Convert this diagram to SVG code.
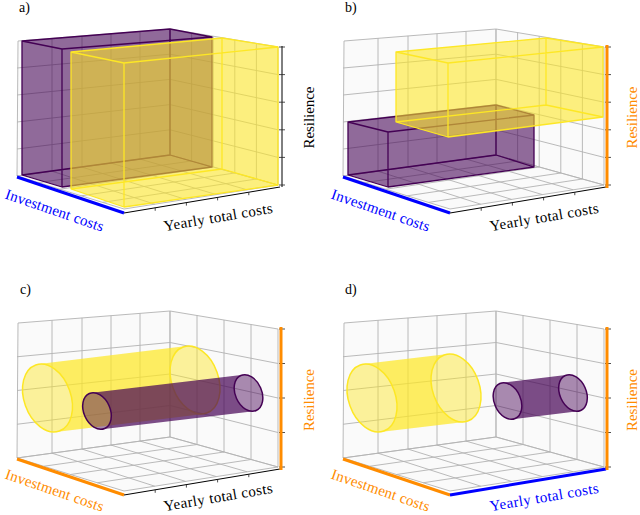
<svg xmlns="http://www.w3.org/2000/svg" xmlns:xlink="http://www.w3.org/1999/xlink" width="640" height="515" viewBox="0 0 640 515">
<style>
.pane{fill:#eeeeee;fill-opacity:.3;stroke:#b2b2b2;stroke-width:.9;stroke-linejoin:round}
.grid{fill:none;stroke:#b2b2b2;stroke-width:.9}
text{font-family:Liberation Serif,DejaVu Serif,Times New Roman,Times,serif}
.lbl{font-size:15px}
.pl{font-size:14px;fill:#000}
.pbox{fill:#440154;fill-opacity:.58}
.pedge{fill:none;stroke:#440154;stroke-width:1.3;stroke-linejoin:round}
.ybox{fill:#fde725;fill-opacity:.58}
.yedge{fill:none;stroke:#fde725;stroke-width:1.3;stroke-linejoin:round}
.ybody{fill:#fde725;fill-opacity:.72}
.yend{fill:#fde725;fill-opacity:.45;stroke:#fde725;stroke-width:1.5}
.pbody{fill:#440154;fill-opacity:.7}
.pend{fill:#440154;fill-opacity:.45;stroke:#440154;stroke-width:1.5}
.blue{fill:none;stroke:#0000ff;stroke-width:3}
.orange{fill:none;stroke:#ff8c00;stroke-width:3}
.blk{fill:none;stroke:#000;stroke-width:1}
.tick{fill:none;stroke:#222;stroke-width:.8}
.tb{fill:#0000ff}
.to{fill:#ff8c00}
.tk{fill:#000}
</style>
<defs>
<g id="panes">
<path class="pane" d="M17,176 L170,155 L170,29 L18,41 Z"/>
<path class="pane" d="M170,155 L278,185 L278,47 L170,29 Z"/>
<path class="pane" d="M17,176 L124,209 L278,185 L170,155 Z"/>
<path class="grid" d="M52,171.2V38.3 M82,167.1V35.9 M111,163.1V33.7 M140,159.1V31.4 M52,171.2L154.8,204.2 M82,167.1L185.6,199.4 M111,163.1L216.4,194.6 M140,159.1L247.2,189.8"/>
</g>
<g id="frame5">
<use xlink:href="#panes"/>
<path class="grid" d="M17,149L170,129.8 M17,122L170,104.6 M17,95L170,79.4 M17,68L170,54.2 M191.6,161V32.6 M213.2,167V36.2 M234.8,173V39.8 M256.4,179V43.4 M170,129.8L278,157.4 M170,104.6L278,129.8 M170,79.4L278,102.2 M170,54.2L278,74.6 M38.4,182.6L191.6,161 M59.8,189.2L213.2,167 M81.2,195.8L234.8,173 M102.6,202.4L256.4,179"/>
</g>
<g id="frame4">
<use xlink:href="#panes"/>
<path class="grid" d="M17,142.25L170,123.5 M17,108.5L170,92 M17,74.75L170,60.5 M197,162.5V33.5 M224,170V38 M251,177.5V42.5 M170,123.5L278,150.5 M170,92L278,116 M170,60.5L278,81.5 M43.75,184.25L197,162.5 M70.5,192.5L224,170 M97.25,200.75L251,177.5"/>
</g>
<path id="yticks" class="tick" d="M155.2,207.8v3 M186.4,202.6v3 M217.6,197.4v3 M248.8,192.2v3"/>
<path id="zt5" class="tick" d="M279,185h6 M279,157.4h6 M279,129.8h6 M279,102.2h6 M279,74.6h6 M279,47h6"/>
<path id="zt4" class="tick" d="M279,185h6 M279,150.5h6 M279,116h6 M279,81.5h6 M279,47h6"/>
</defs>
<rect width="640" height="515" fill="#fff"/>

<g id="panel-a">
<use xlink:href="#frame5"/>
<g id="a-purple-box">
<path class="pbox" d="M22,41 L170,29 L212,37 L212,167 L62,187 L22,175 Z"/>
<path class="pedge" d="M22,41 L62,49 L212,37 L170,29 Z M22,175 L62,187 L212,167 L170,155 Z M22,41V175 M62,49V187 M212,37V167 M170,29V155"/>
</g>
<g id="a-yellow-box">
<path class="ybox" d="M71,52 L222,38 L278,47 L278,185 L124,207 L71,189 Z"/>
<path class="yedge" d="M71,52 L124,63 L278,47 L222,38 Z M71,189 L124,207 L278,185 L222,169 Z M71,52V189 M124,63V207 M278,47V185 M222,38V169"/>
</g>
<g id="a-axes">
<path class="blue" d="M17,177 L124,213"/>
<path class="blk" d="M124,213 L280,187"/>
<use xlink:href="#yticks"/>
<path class="blk" d="M282,46V187"/>
<use xlink:href="#zt5"/>
</g>
<text class="pl" x="19" y="12" font-family="Liberation Serif, serif">a)</text>
<text class="lbl tb" font-family="Liberation Serif, serif" transform="translate(53,215) rotate(19)" text-anchor="middle" textLength="103" lengthAdjust="spacing">Investment costs</text>
<text class="lbl tk" font-family="Liberation Serif, serif" transform="translate(219,222) rotate(-9.6)" text-anchor="middle" textLength="110" lengthAdjust="spacing">Yearly total costs</text>
<text class="lbl tk" font-family="Liberation Serif, serif" transform="translate(314,117.5) rotate(-90)" text-anchor="middle" textLength="62" lengthAdjust="spacing">Resilience</text>
</g>

<g id="panel-b">
<use xlink:href="#frame5" x="326" y="0"/>
<g id="b-purple-box">
<path class="pbox" d="M348,122 L496,105 L534,115 L534,167 L388,187 L348,175 Z"/>
<path class="pedge" d="M348,122 L388,132 L534,115 L496,105 Z M348,175 L388,187 L534,167 L496,155 Z M348,122V175 M388,132V187 M534,115V167 M496,105V155"/>
</g>
<g id="b-yellow-box">
<path class="ybox" d="M396,52 L546,38 L603,47 L603,117 L448,137 L396,122 Z"/>
<path class="yedge" d="M396,52 L448,63 L603,47 L546,38 Z M396,122 L448,137 L603,117 L546,105 Z M396,52V122 M448,63V137 M603,47V117 M546,38V105"/>
</g>
<g id="b-axes" transform="translate(326,0)">
<path class="blue" d="M17,177 L124,213"/>
<path class="blk" d="M124,213 L280,187"/>
<use xlink:href="#yticks"/>
<use xlink:href="#zt5"/>
<path class="orange" d="M281,45V188"/>
</g>
<text class="pl" x="345" y="12" font-family="Liberation Serif, serif">b)</text>
<text class="lbl tb" font-family="Liberation Serif, serif" transform="translate(379,215) rotate(19)" text-anchor="middle" textLength="103" lengthAdjust="spacing">Investment costs</text>
<text class="lbl tk" font-family="Liberation Serif, serif" transform="translate(545,222) rotate(-9.6)" text-anchor="middle" textLength="110" lengthAdjust="spacing">Yearly total costs</text>
<text class="lbl to" font-family="Liberation Serif, serif" transform="translate(637,117.5) rotate(-90)" text-anchor="middle" textLength="62" lengthAdjust="spacing">Resilience</text>
</g>

<g id="panel-c">
<use xlink:href="#frame4" x="0" y="282"/>
<g id="c-yellow-cyl">
<path class="ybody" d="M39.1,364.1 L186.6,346.1 A23.4,35.1 -19.6 0 0 203.4,413.9 L55.9,431.9 A23.4,35.1 -19.6 0 0 39.1,364.1 Z"/>
<ellipse class="yend" cx="47.5" cy="398" rx="23.4" ry="35.1" transform="rotate(-19.6 47.5 398)"/>
<ellipse class="yend" cx="195" cy="380" rx="23.4" ry="35.1" transform="rotate(-19.6 195 380)"/>
</g>
<g id="c-purple-cyl">
<path class="pbody" d="M91.9,392.8 L243.4,374.8 A13.2,19.1 -23.7 0 0 253.6,411.2 L102.1,429.2 A13.2,19.1 -23.7 0 0 91.9,392.8 Z"/>
<ellipse class="pend" cx="97" cy="411" rx="13.2" ry="19.1" transform="rotate(-23.7 97 411)"/>
<ellipse class="pend" cx="248.5" cy="393" rx="13.2" ry="19.1" transform="rotate(-23.7 248.5 393)"/>
</g>
<g id="c-axes" transform="translate(0,282)">
<path class="orange" d="M17,177 L124,213"/>
<path class="blk" d="M124,213 L280,187"/>
<use xlink:href="#yticks"/>
<use xlink:href="#zt4"/>
<path class="orange" d="M281,45V188"/>
</g>
<text class="pl" x="20" y="294" font-family="Liberation Serif, serif">c)</text>
<text class="lbl to" font-family="Liberation Serif, serif" transform="translate(53,495) rotate(19)" text-anchor="middle" textLength="103" lengthAdjust="spacing">Investment costs</text>
<text class="lbl tk" font-family="Liberation Serif, serif" transform="translate(219,502) rotate(-9.6)" text-anchor="middle" textLength="110" lengthAdjust="spacing">Yearly total costs</text>
<text class="lbl to" font-family="Liberation Serif, serif" transform="translate(314,400) rotate(-90)" text-anchor="middle" textLength="62" lengthAdjust="spacing">Resilience</text>
</g>

<g id="panel-d">
<use xlink:href="#frame4" x="326" y="282"/>
<g id="d-yellow-cyl">
<path class="ybody" d="M363.7,364.1 L447.7,354.1 A23.4,35.1 -19.6 0 0 464.3,421.9 L380.3,431.9 A23.4,35.1 -19.6 0 0 363.7,364.1 Z"/>
<ellipse class="yend" cx="372" cy="398" rx="23.4" ry="35.1" transform="rotate(-19.6 372 398)"/>
<ellipse class="yend" cx="456" cy="388" rx="23.4" ry="35.1" transform="rotate(-19.6 456 388)"/>
</g>
<g id="d-purple-cyl">
<path class="pbody" d="M502.4,382.8 L567.9,374.8 A13.2,19.1 -23.7 0 0 578.1,411.2 L512.6,419.2 A13.2,19.1 -23.7 0 0 502.4,382.8 Z"/>
<ellipse class="pend" cx="507.5" cy="401" rx="13.2" ry="19.1" transform="rotate(-23.7 507.5 401)"/>
<ellipse class="pend" cx="573" cy="393" rx="13.2" ry="19.1" transform="rotate(-23.7 573 393)"/>
</g>
<g id="d-axes" transform="translate(326,282)">
<path class="orange" d="M17,177 L124,213"/>
<path class="blue" d="M124,213 L280,187"/>
<use xlink:href="#zt4"/>
<path class="orange" d="M281,45V188"/>
</g>
<text class="pl" x="345" y="294" font-family="Liberation Serif, serif">d)</text>
<text class="lbl to" font-family="Liberation Serif, serif" transform="translate(379,495) rotate(19)" text-anchor="middle" textLength="103" lengthAdjust="spacing">Investment costs</text>
<text class="lbl tb" font-family="Liberation Serif, serif" transform="translate(545,502) rotate(-9.6)" text-anchor="middle" textLength="110" lengthAdjust="spacing">Yearly total costs</text>
<text class="lbl to" font-family="Liberation Serif, serif" transform="translate(637,400) rotate(-90)" text-anchor="middle" textLength="62" lengthAdjust="spacing">Resilience</text>
</g>
</svg>
